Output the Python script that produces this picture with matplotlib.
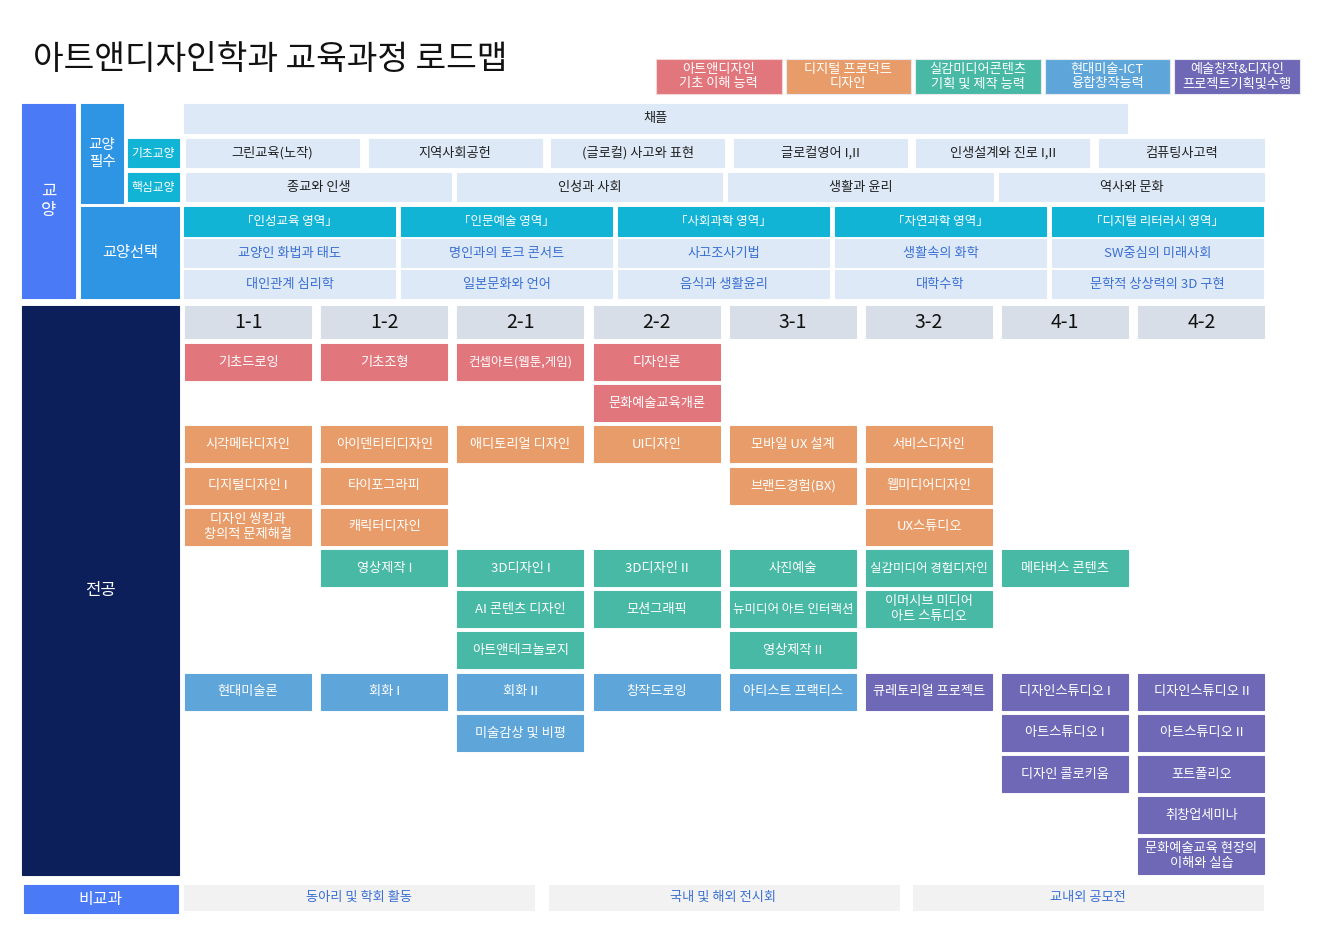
import matplotlib.pyplot as plt
from matplotlib.patches import Rectangle

plt.rcParams['font.family'] = ['Noto Sans CJK KR', 'DejaVu Sans']

# ---- data ----
title = '아트앤디자인학과 교육과정 로드맵'

competencies = ['아트앤디자인\n기초 이해 능력', '디지털 프로덕트\n디자인', '실감미디어콘텐츠\n기획 및 제작 능력',
                '현대미술-ICT\n융합창작능력', '예술창작&디자인\n프로젝트기획및수행']

chapel = '채플'
basic_liberal = ['그린교육(노작)', '지역사회공헌', '(글로컬) 사고와 표현', '글로컬영어 I,II', '인생설계와 진로 I,II', '컴퓨팅사고력']
core_liberal = ['종교와 인생', '인성과 사회', '생활과 윤리', '역사와 문화']
elective_areas = ['「인성교육 영역」', '「인문예술 영역」', '「사회과학 영역」', '「자연과학 영역」', '「디지털 리터러시 영역」']
elective_first = ['교양인 화법과 태도', '명인과의 토크 콘서트', '사고조사기법', '생활속의 화학', 'SW중심의 미래사회']
elective_second = ['대인관계 심리학', '일본문화와 언어', '음식과 생활윤리', '대학수학', '문학적 상상력의 3D 구현']

semesters = ['1-1', '1-2', '2-1', '2-2', '3-1', '3-2', '4-1', '4-2']

foundation_courses = {
    '1-1': ['기초드로잉'], '1-2': ['기초조형'], '2-1': ['컨셉아트(웹툰,게임)'],
    '2-2': ['디자인론', '문화예술교육개론'],
}
product_courses = {
    '1-1': ['시각메타디자인', '디지털디자인 I', '디자인 씽킹과\n창의적 문제해결'],
    '1-2': ['아이덴티티디자인', '타이포그라피', '캐릭터디자인'],
    '2-1': ['애디토리얼 디자인'], '2-2': ['UI디자인'],
    '3-1': ['모바일 UX 설계', '브랜드경험(BX)'],
    '3-2': ['서비스디자인', '웹미디어디자인', 'UX스튜디오'],
}
immersive_courses = {
    '1-2': ['영상제작 I'],
    '2-1': ['3D디자인 I', 'AI 콘텐츠 디자인', '아트앤테크놀로지'],
    '2-2': ['3D디자인 II', '모션그래픽'],
    '3-1': ['사진예술', '뉴미디어 아트 인터랙션', '영상제작 II'],
    '3-2': ['실감미디어 경험디자인', '이머시브 미디어\n아트 스튜디오'],
    '4-1': ['메타버스 콘텐츠'],
}
art_ict_courses = {
    '1-1': ['현대미술론'], '1-2': ['회화 I'], '2-1': ['회화 II', '미술감상 및 비평'],
    '2-2': ['창작드로잉'], '3-1': ['아티스트 프랙티스'],
}
project_courses = {
    '3-2': ['큐레토리얼 프로젝트'],
    '4-1': ['디자인스튜디오 I', '아트스튜디오 I', '디자인 콜로키움'],
    '4-2': ['디자인스튜디오 II', '아트스튜디오 II', '포트폴리오', '취창업세미나', '문화예술교육 현장의\n이해와 실습'],
}

extracurricular = ['동아리 및 학회 활동', '국내 및 해외 전시회', '교내외 공모전']

# ---- styles ----
ROYAL = '#4a7af5'
MID = '#2e95e5'
CYAN = '#12b4d6'
LIGHT = '#dde9f6'
NAVY = '#0c1f5b'
HEAD = '#d7dee8'
GRAY = '#f2f2f2'
TXT_BLUE = '#3a6fd4'
comp_colors = ['#e2767d', '#e89c69', '#47b9a5', '#5ea6da', '#6f68b6']

fig = plt.figure(figsize=(13.17, 9.30), dpi=100)
ax = fig.add_axes([0, 0, 1, 1])
ax.set_xlim(0, 1317)
ax.set_ylim(930, 0)
ax.axis('off')


def box(x0, y0, x1, y1, color, text='', tcolor='white', size=9.5, edge=None, weight='normal'):
    ax.add_patch(Rectangle((x0, y0), x1 - x0, y1 - y0, facecolor=color,
                           edgecolor=edge or color, linewidth=0.8))
    if text:
        ax.text((x0 + x1) / 2, (y0 + y1) / 2, text, ha='center', va='center',
                color=tcolor, fontsize=size, linespacing=1.2, weight=weight)


ax.text(33, 60, title, ha='left', va='center', fontsize=24, color='#111111')

# legend
for i, (label, c) in enumerate(zip(competencies, comp_colors)):
    x = 656 + i * 129.5
    box(x, 59, x + 125.5, 94, c, label, size=9.5, edge='#f3d6d6' if i == 0 else '#e8e8ee')

# 교양 section
box(22, 104, 75, 298, ROYAL, '교\n양', size=12)
box(81, 104, 123, 203, MID, '교양\n필수', size=10.5)
box(128, 139, 179, 167, CYAN, '기초교양', size=8.5)
box(128, 173, 179, 201, CYAN, '핵심교양', size=8.5)
box(81, 207, 179, 298, MID, '교양선택', size=11)

box(184, 104, 1127, 133, LIGHT, chapel, tcolor='#222222', size=9.5)

for i, name in enumerate(basic_liberal):
    x = 186 + i * 182.6
    box(x, 139, min(x + 173, 1264), 167, LIGHT, name, tcolor='#222222', size=9.5)

for i, name in enumerate(core_liberal):
    x = 186 + i * 271
    box(x, 173, x + 265, 201, LIGHT, name, tcolor='#222222', size=9.5)

for i in range(len(elective_areas)):
    x = 184 + i * 217
    box(x, 207, x + 211, 236, CYAN, elective_areas[i], size=9)
    box(x, 239, x + 211, 267, LIGHT, elective_first[i], tcolor=TXT_BLUE, size=9.5)
    box(x, 270, x + 211, 298, LIGHT, elective_second[i], tcolor=TXT_BLUE, size=9.5)

# 전공 section
box(22, 306, 179, 875, NAVY, '전공', size=12)

col_x0, col_pitch, col_w = 185, 136.2, 126
row_y0, row_pitch, row_h = 344, 41.2, 36

for j, sem in enumerate(semesters):
    x = col_x0 + j * col_pitch
    box(x, 306, x + col_w, 338, HEAD, sem, tcolor='#111111', size=14)

bands = [(foundation_courses, 0, comp_colors[0]),
         (product_courses, 2, comp_colors[1]),
         (immersive_courses, 5, comp_colors[2]),
         (art_ict_courses, 8, comp_colors[3]),
         (project_courses, 8, comp_colors[4])]

for courses, start, c in bands:
    for sem, names in courses.items():
        j = semesters.index(sem)
        x = col_x0 + j * col_pitch
        for k, name in enumerate(names):
            y = row_y0 + (start + k) * row_pitch
            fs = 9 if len(name) > 10 and '\n' not in name else 9.5
            box(x, y, x + col_w, y + row_h, c, name, size=fs)

# 비교과
box(24, 885, 178, 913, ROYAL, '비교과', size=11.5)
for i, name in enumerate(extracurricular):
    x = 184 + i * 364.5
    box(x, 885, x + 350, 910, GRAY, name, tcolor=TXT_BLUE, size=9.5)

fig.savefig('out.png', dpi=100)
